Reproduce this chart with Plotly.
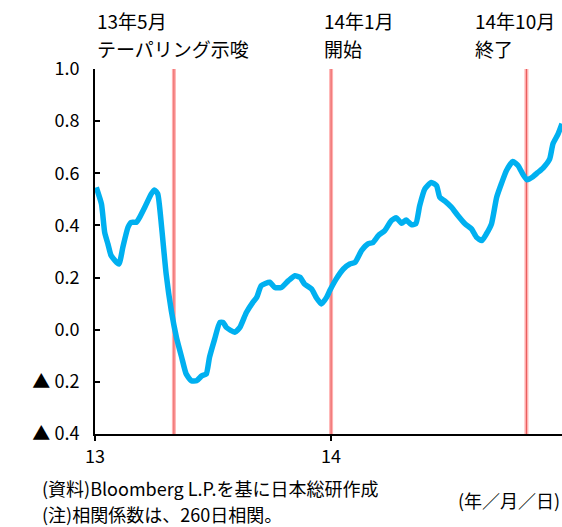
import plotly.graph_objects as go

dates = [
    "2013-01-03", "2013-01-11", "2013-01-16", "2013-01-21", "2013-01-26", "2013-02-07",
    "2013-02-13", "2013-02-21", "2013-02-26", "2013-03-06", "2013-03-11", "2013-03-19",
    "2013-03-29", "2013-04-03", "2013-04-08", "2013-04-14", "2013-04-21", "2013-04-29",
    "2013-05-07", "2013-05-15", "2013-05-22", "2013-05-30", "2013-06-07", "2013-06-15",
    "2013-06-22", "2013-06-27", "2013-07-05", "2013-07-13", "2013-07-18", "2013-07-23",
    "2013-08-05", "2013-08-13", "2013-08-23", "2013-09-02", "2013-09-08", "2013-09-15",
    "2013-09-28", "2013-10-06", "2013-10-16", "2013-10-27", "2013-11-06", "2013-11-14",
    "2013-11-21", "2013-12-02", "2013-12-09", "2013-12-17", "2013-12-25", "2013-12-30",
    "2014-01-09", "2014-01-20", "2014-01-30", "2014-02-07", "2014-02-17", "2014-02-27",
    "2014-03-07", "2014-03-15", "2014-03-25", "2014-04-04", "2014-04-12", "2014-04-20",
    "2014-04-27", "2014-05-05", "2014-05-12", "2014-05-18", "2014-05-26", "2014-06-05",
    "2014-06-13", "2014-06-18", "2014-06-26", "2014-07-06", "2014-07-16", "2014-07-27",
    "2014-08-06", "2014-08-14", "2014-08-22", "2014-08-29", "2014-09-06", "2014-09-14",
    "2014-09-22", "2014-09-29", "2014-10-09", "2014-10-17", "2014-10-25", "2014-10-31",
    "2014-11-09", "2014-11-17", "2014-11-25", "2014-12-05", "2014-12-10", "2014-12-18",
    "2014-12-24",
]
corr = [
    0.546, 0.482, 0.373, 0.329, 0.284, 0.252,
    0.316, 0.393, 0.412, 0.412, 0.431, 0.470,
    0.521, 0.536, 0.521, 0.393, 0.214, 0.073,
    -0.030, -0.106, -0.170, -0.196, -0.196, -0.177,
    -0.170, -0.106, -0.036, 0.028, 0.028, 0.009,
    -0.010, 0.009, 0.066, 0.105, 0.124, 0.169,
    0.182, 0.162, 0.162, 0.188, 0.207, 0.201,
    0.175, 0.156, 0.124, 0.099, 0.124, 0.150,
    0.195, 0.233, 0.252, 0.258, 0.303, 0.329,
    0.335, 0.361, 0.380, 0.418, 0.429, 0.408,
    0.421, 0.403, 0.406, 0.476, 0.540, 0.565,
    0.553, 0.508, 0.493, 0.470, 0.438, 0.406,
    0.387, 0.354, 0.342, 0.367, 0.406, 0.508,
    0.565, 0.610, 0.645, 0.630, 0.594, 0.575,
    0.587, 0.604, 0.621, 0.655, 0.713, 0.751,
    0.790,
]

event_dates = ["2013-05-03", "2014-01-01", "2014-10-30"]
event_line1 = ["13年5月", "14年1月", "14年10月"]
event_line2 = ["テーパリング示唆", "開始", "終了"]

y_tickvals = [-0.4, -0.2, 0.0, 0.2, 0.4, 0.6, 0.8, 1.0]
y_ticktext = ["▲ 0.4", "▲ 0.2", "0.0", "0.2", "0.4", "0.6", "0.8", "1.0"]
x_tickvals = ["2013-01-01", "2014-01-01"]
x_ticktext = ["13", "14"]

FONT = "Noto Sans CJK JP"
TXT = 19
NOTE = 18
TICK = 18

fig = go.Figure()
fig.add_trace(go.Scatter(
    x=dates, y=corr, mode="lines",
    line=dict(color="#00B0F0", width=5.5, shape="spline", smoothing=0.5),
    showlegend=False, hoverinfo="skip",
))

for d in event_dates:
    fig.add_shape(type="line", xref="x", yref="paper", x0=d, x1=d, y0=0, y1=1,
                  line=dict(color="rgba(255,170,170,0.9)", width=4), layer="below")
    fig.add_shape(type="line", xref="x", yref="paper", x0=d, x1=d, y0=0, y1=1,
                  line=dict(color="#E85858", width=1), layer="below")

ann_x = [0.0, 0.486, 0.809]
for xp, t1, t2 in zip(ann_x, event_line1, event_line2):
    fig.add_annotation(xref="paper", yref="paper", x=xp, y=1.132, text=t1,
                       showarrow=False, xanchor="left", yanchor="middle",
                       font=dict(size=TXT, color="black", family=FONT))
    fig.add_annotation(xref="paper", yref="paper", x=xp, y=1.055, text=t2,
                       showarrow=False, xanchor="left", yanchor="middle",
                       font=dict(size=TXT, color="black", family=FONT))

fig.add_annotation(xref="paper", yref="paper", x=-0.118, y=-0.149,
                   text="(資料)Bloomberg L.P.を基に日本総研作成",
                   showarrow=False, xanchor="left", yanchor="middle",
                   font=dict(size=NOTE, color="black", family=FONT))
fig.add_annotation(xref="paper", yref="paper", x=-0.118, y=-0.2192,
                   text="(注)相関係数は、260日相関。",
                   showarrow=False, xanchor="left", yanchor="middle",
                   font=dict(size=NOTE, color="black", family=FONT))
fig.add_annotation(xref="paper", yref="paper", x=1.0, y=-0.181,
                   text="(年／月／日)",
                   showarrow=False, xanchor="right", yanchor="middle",
                   font=dict(size=NOTE, color="black", family=FONT))

fig.update_layout(
    width=562, height=527,
    margin=dict(l=95, r=0, t=69, b=93),
    paper_bgcolor="white", plot_bgcolor="white",
    font=dict(family=FONT, size=TICK, color="black"),
    showlegend=False,
)
fig.update_xaxes(
    type="date", range=["2013-01-01", "2014-12-24"],
    tickvals=x_tickvals, ticktext=x_ticktext,
    showgrid=False, zeroline=False,
    showline=True, linecolor="black", linewidth=2,
    ticks="outside", ticklen=5, tickwidth=2, tickcolor="black",
    tickfont=dict(size=TICK, family=FONT),
)
fig.update_yaxes(
    range=[-0.4, 1.0], tickvals=y_tickvals, ticktext=y_ticktext,
    showgrid=False, zeroline=False,
    showline=True, linecolor="black", linewidth=2,
    ticks="inside", ticklen=5, tickwidth=2, tickcolor="black",
    ticklabelstandoff=10,
    tickfont=dict(size=TICK, family=FONT),
)

fig.write_html("out.html")
